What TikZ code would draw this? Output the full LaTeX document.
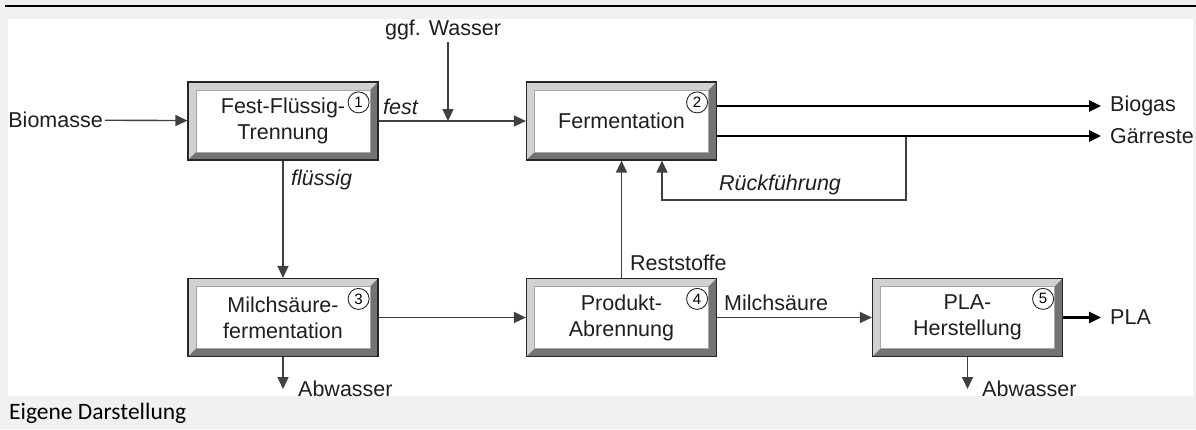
\documentclass[tikz,border=0pt]{standalone}
\usepackage{fontspec}
\setmainfont{Liberation Sans}
\newfontfamily\captionfont{Carlito}
\usetikzlibrary{positioning,arrows.meta}

\definecolor{pagegray}{HTML}{F1F1F1}
\definecolor{linegray}{HTML}{404040}
\newcommand{\flowfont}{\fontsize{21.5}{26}\selectfont}

\begin{document}
\begin{tikzpicture}[x=1pt,y=-1pt,>={Triangle[length=12pt,width=11pt]},on grid,font=\flowfont,
    proc node/.style={draw=black!85,line width=1.2pt,fill=black!18,minimum width=190pt,minimum height=78pt,inner sep=0pt,align=center,text=black!88,
        path picture={
            \fill[black!55] (path picture bounding box.south west) -- (path picture bounding box.south east)
                -- (path picture bounding box.north east) -- ([shift={(-8pt,-8pt)}]path picture bounding box.north east)
                -- ([shift={(-8pt,8pt)}]path picture bounding box.south east) -- ([shift={(8pt,8pt)}]path picture bounding box.south west) -- cycle;
            \draw[black!35,line width=0.6pt,fill=white] ([shift={(8pt,8pt)}]path picture bounding box.south west) rectangle ([shift={(-8pt,-8pt)}]path picture bounding box.north east);
        }},
    num node/.style={circle,draw=black!85,line width=0.9pt,minimum size=21pt,inner sep=0pt,font=\fontsize{15}{15}\selectfont},
    text node/.style={inner sep=2pt,text=black!88},
    italic node/.style={text node,font=\flowfont\itshape},
    flow/.style={draw=linegray,line width=1.4pt,->},
    main flow/.style={draw=black,line width=2.6pt,->,shorten >=7pt}]

    % Seite
    \useasboundingbox (0,0) rectangle (1196,429);
    \fill[pagegray] (0,0) rectangle (1196,429);
    \fill[white] (8,19) rectangle (1193,396);
    \draw[line width=2.4pt] (5,6) -- (1196,6);
    \node[anchor=west,inner sep=0pt,font=\captionfont\fontsize{23.5}{28}\selectfont] (cap) at (9,413) {Eigene Darstellung};

    % Prozessschritte
    \node[proc node] (b1) at (283,121) {Fest-Flüssig-\\Trennung};
    \node[proc node] (b2) [right=338.5pt of b1] {Fermentation};
    \node[proc node] (b3) [below=196.5pt of b1] {Milchsäure-\\fermentation};
    \node[proc node] (b4) [right=338.5pt of b3] {Produkt-\\Abrennung};
    \node[proc node] (b5) [right=346pt of b4] {PLA-\\Herstellung};

    \foreach \i in {1,...,5}
        \node[num node] (n\i) at ([shift={(-20pt,-21pt)}]b\i.north east) {\i};

    % Stoffstroeme
    \node[text node,anchor=east] (bio) at (105,120) {Biomasse};
    \node[text node] (wa) at (443,30) {ggf. Wasser};
    \coordinate (wj) at (448,121);
    \node[italic node,anchor=west] (fest) at (381,107) {fest};
    \node[italic node,anchor=west] (fluessig) at (289,180) {flüssig};
    \node[text node,anchor=west] (biogas) at (1108,106) {Biogas};
    \node[text node,anchor=west] (gaer) at (1108,136) {Gärreste};
    \node[italic node] (rueck) at (780,185) {Rückführung};
    \node[text node,anchor=west] (rest) at (628,263) {Reststoffe};
    \node[text node,anchor=west] (milch) at (722,303) {Milchsäure};
    \node[text node,anchor=west] (pla) at (1108,317.5) {PLA};
    \node[text node,anchor=west] (abw1) at (296,389) {Abwasser};
    \node[text node,anchor=west] (abw2) at (980,389) {Abwasser};

    \coordinate (rk1) at (906,136);
    \coordinate (rk2) at (662,200);

    \path[every edge/.style={flow}]
        (bio) edge (b1)
        (b1) edge (b2)
        (wj |- wa.south) edge (wj)
        (b1) edge (b3)
        (b3) edge (b4)
        (b4) edge (b2)
        (b4) edge (b5)
        (b3) edge (b3.south |- abw1.west)
        (b5) edge (b5.south |- abw2.west)
        ;
    \draw[flow,line width=1.1pt] (rk1) |- (rk2) -- (rk2 |- b2.south);

    \path[every edge/.style={main flow}]
        (b2.east |- biogas) edge (biogas)
        (b2.east |- gaer) edge (gaer)
        (b5) edge (pla)
        ;
\end{tikzpicture}
\end{document}
